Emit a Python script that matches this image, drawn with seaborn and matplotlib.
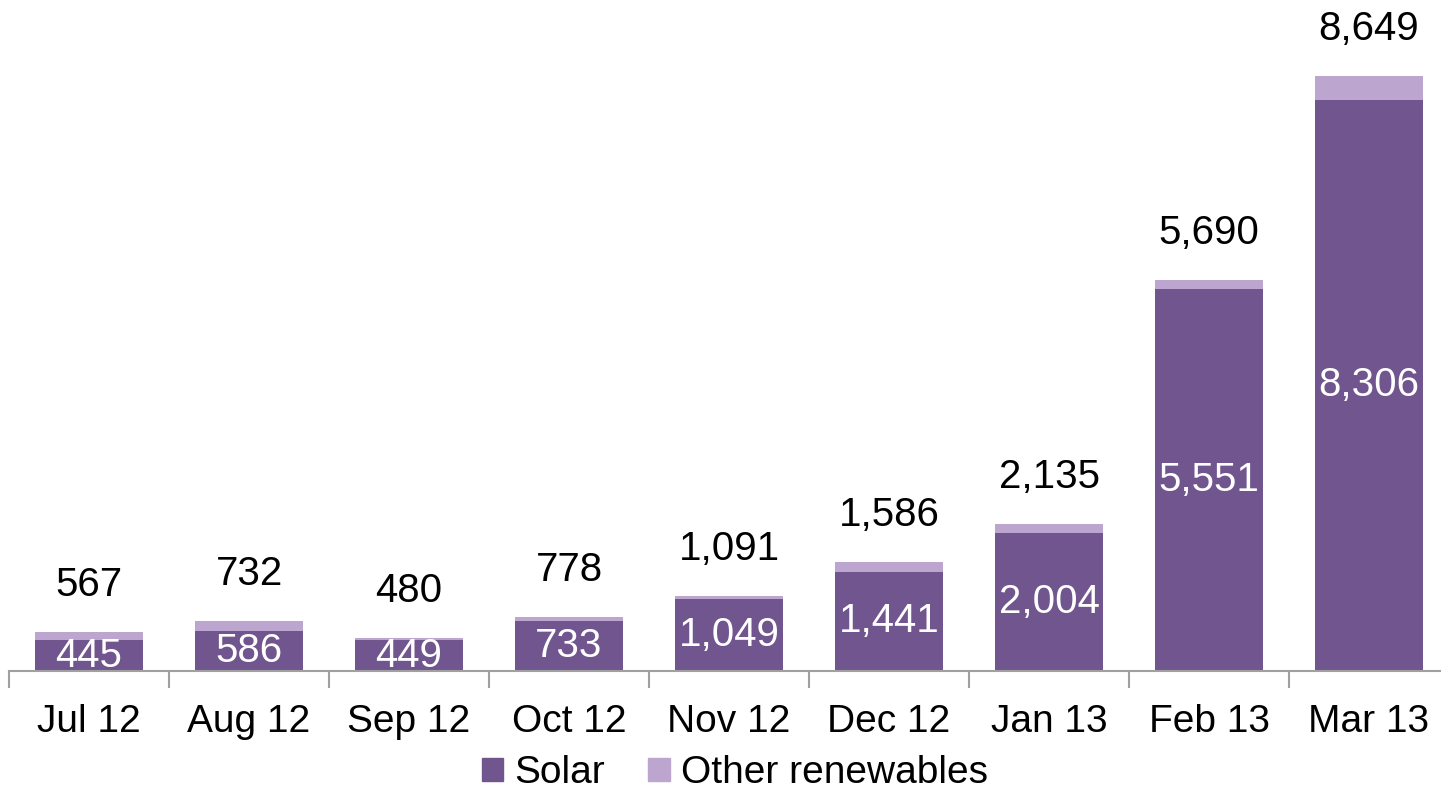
import matplotlib
matplotlib.use("Agg")
import matplotlib.pyplot as plt
import seaborn as sns
import pandas as pd
from matplotlib.patches import Patch

months = ["Jul 12", "Aug 12", "Sep 12", "Oct 12", "Nov 12", "Dec 12", "Jan 13", "Feb 13", "Mar 13"]
solar = [445, 586, 449, 733, 1049, 1441, 2004, 5551, 8306]
total = [567, 732, 480, 778, 1091, 1586, 2135, 5690, 8649]

SOLAR_C = "#71558F"
OTHER_C = "#BCA5CF"

sns.set_theme(style="white")
plt.rcParams["font.family"] = ["Liberation Sans", "DejaVu Sans"]

df = pd.DataFrame({"month": months, "solar": solar, "total": total})

fig = plt.figure(figsize=(14.41, 7.93), dpi=100)
W, H = 1441, 793
ax = fig.add_axes([9 / W, 1 - 671 / H, 1440 / W, 671 / H])

sns.barplot(data=df, x="month", y="total", color=OTHER_C, width=0.67, ax=ax,
            saturation=1, linewidth=0)
sns.barplot(data=df, x="month", y="solar", color=SOLAR_C, width=0.67, ax=ax,
            saturation=1, linewidth=0)

ax.set_xlim(-0.5, 8.5)
ax.set_ylim(0, 671 / 0.0688)

for i, (s, t) in enumerate(zip(solar, total)):
    ax.annotate(f"{t:,}", (i, t), xytext=(0, 47), textcoords="offset pixels",
                ha="center", va="center", fontsize=29, color="black")
    ax.text(i, s / 2, f"{s:,}", ha="center", va="center", fontsize=29, color="white")

for sp in ["top", "right", "left"]:
    ax.spines[sp].set_visible(False)
ax.spines["bottom"].set_color("#A0A0A0")
ax.spines["bottom"].set_linewidth(1.5)
ax.set_yticks([])
ax.set_ylabel("")
ax.set_xlabel("")
ax.set_xticks(range(len(months)))
ax.set_xticklabels(months, fontsize=28, color="black")
ax.tick_params(axis="x", which="major", length=0, pad=24)
# boundary tick marks
ax.set_xticks([i - 0.5 for i in range(len(months) + 1)], minor=True)
ax.tick_params(axis="x", which="minor", bottom=True, length=12, width=1.5,
               color="#A0A0A0", direction="out")

handles = [Patch(color=SOLAR_C, label="Solar"), Patch(color=OTHER_C, label="Other renewables")]
leg = fig.legend(handles=handles, loc="center", bbox_to_anchor=(735 / W, 1 - 773 / H), ncol=2,
                 frameon=False, fontsize=28, handlelength=0.55, handleheight=0.55,
                 handletextpad=0.3, columnspacing=1.1)
for t in leg.get_texts():
    t.set_color("black")

fig.savefig("out.png", dpi=100)
